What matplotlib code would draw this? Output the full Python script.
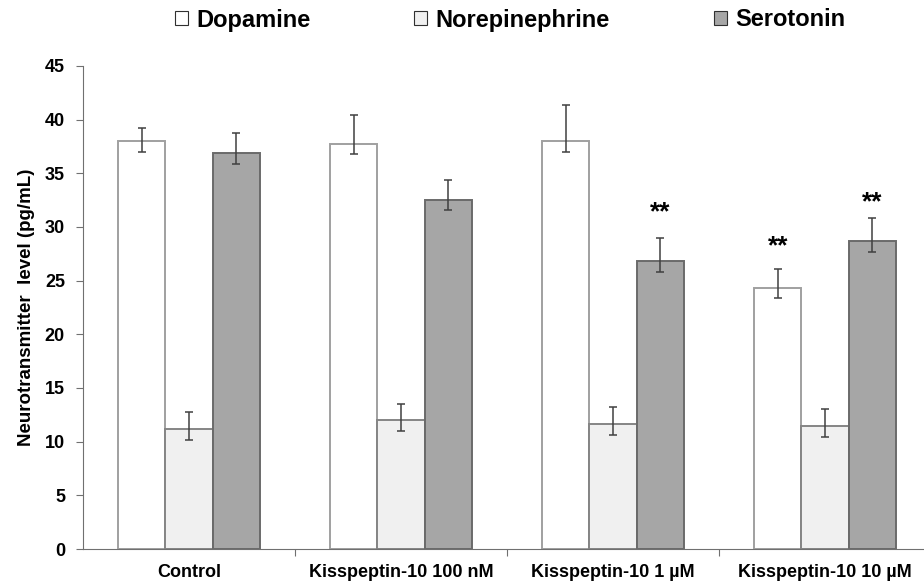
import numpy as np
import matplotlib
matplotlib.use("Agg")
import matplotlib.pyplot as plt
from matplotlib.patches import Patch

plt.rcParams['font.family'] = ['Liberation Sans', 'DejaVu Sans']

categories = ['Control', 'Kisspeptin-10 100 nM', 'Kisspeptin-10 1 µM', 'Kisspeptin-10 10 µM']
series = ['Dopamine', 'Norepinephrine', 'Serotonin']

dopamine = [38.0, 37.7, 38.0, 24.3]
dopamine_lo = [1.0, 0.9, 1.0, 0.9]
dopamine_hi = [1.2, 2.7, 3.4, 1.8]

norepinephrine = [11.2, 12.0, 11.6, 11.5]
norepinephrine_lo = [1.0, 1.0, 1.0, 1.1]
norepinephrine_hi = [1.6, 1.5, 1.6, 1.5]

serotonin = [36.9, 32.5, 26.8, 28.7]
serotonin_lo = [1.0, 0.9, 1.0, 1.0]
serotonin_hi = [1.9, 1.9, 2.2, 2.1]

# significance marks: (category index, series index, y position)
stars = [(2, 2, 31.4), (3, 0, 28.2), (3, 2, 32.3)]

values = [dopamine, norepinephrine, serotonin]
errors = [(dopamine_lo, dopamine_hi), (norepinephrine_lo, norepinephrine_hi),
          (serotonin_lo, serotonin_hi)]
faces = ['white', '#f0f0f0', '#a6a6a6']
edges = ['#a0a0a0', '#858585', '#6a6a6a']

fig = plt.figure(figsize=(9.24, 5.86), dpi=100)
ax = fig.add_axes([83 / 924, 37 / 586, (924 - 83) / 924, 483 / 586])

x = np.arange(len(categories))
width = 0.222
for i, (vals, err) in enumerate(zip(values, errors)):
    pos = x + (i - 1) * width
    ax.bar(pos, vals, width, color=faces[i], edgecolor=edges[i], linewidth=1.4, zorder=2)
    ax.errorbar(pos, vals, yerr=[err[0], err[1]], fmt='none', ecolor='#404040',
                elinewidth=1.1, capsize=3, capthick=1.1, zorder=3)

for ci, si, yv in stars:
    ax.text(x[ci] + (si - 1) * width, yv, '**', ha='center', va='center',
            fontsize=19, fontweight='bold')

ax.set_ylim(0, 45)
ax.set_yticks(range(0, 46, 5))
ax.set_xlim(-0.5, 3.5 - 7 / 212)
ax.set_xticks(np.arange(0.5, 3.0, 1.0))
ax.set_xticklabels([])
ax.tick_params(axis='x', length=5, color='#707070')
ax.tick_params(axis='y', length=5, color='#707070', labelsize=13, pad=8)
for lab in ax.get_yticklabels():
    lab.set_fontweight('bold')
for i, c in enumerate(categories):
    ax.text(x[i], -2.2, c, ha='center', va='center', fontsize=13, fontweight='bold')

for s in ['top', 'right']:
    ax.spines[s].set_visible(False)
for s in ['left', 'bottom']:
    ax.spines[s].set_color('#707070')

ax.set_ylabel('Neurotransmitter  level (pg/mL)', fontsize=13.5, fontweight='bold', labelpad=7)

handles = [Patch(facecolor=faces[i], edgecolor='#303030', linewidth=0.8, label=series[i])
           for i in range(3)]
fig.legend(handles=handles, loc='center', bbox_to_anchor=(510 / 924, 1 - 20 / 586), ncol=3,
           frameon=False, prop={'weight': 'bold', 'size': 17},
           handlelength=0.55, handleheight=0.55, handletextpad=0.35, columnspacing=4.4)

fig.savefig('out.png', dpi=100)
